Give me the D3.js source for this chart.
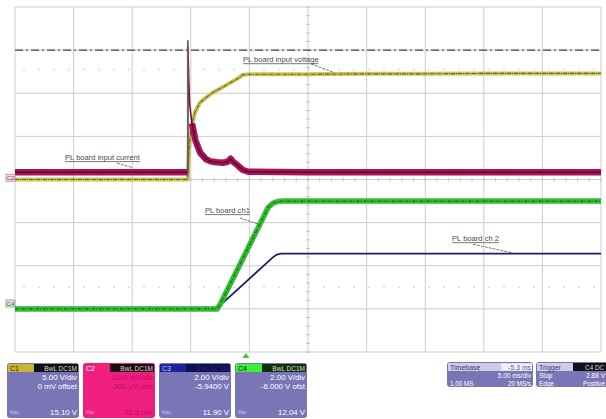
<!DOCTYPE html>
<html><head><meta charset="utf-8">
<script src="https://cdn.jsdelivr.net/npm/d3@7"></script>
<style>
html,body{margin:0;padding:0;background:#fff;}
svg{display:block;font-family:"Liberation Sans",Arial,sans-serif;}
</style></head>
<body>
<svg id="c" width="606" height="419"></svg>
<script>
// ---------- DATA ----------
// time in ms relative to trigger; timebase 5 ms/div, delay -5.3 ms
const timeDomain = [-19.7, 30.3];
const divDomain = [-4, 4];
const xDivs = d3.range(0, 11);
const yDivs = d3.range(-4, 5);

// C1 – PL board input voltage (V), 5 V/div, 0 V offset
const c1Time = [-19.7, -4.96, -4.94, -4.85, -4.68, -4.34, -3.92, -3.4, -2.81, -2.1, -1.36, -0.7, -0.25, 0.3, 5, 10, 15, 20, 25, 30.3];
const c1Volts = [0, 0, 0.6, 3.4, 6.0, 7.8, 8.9, 9.5, 10.1, 10.6, 11.2, 11.7, 12.15, 12.2, 12.2, 12.25, 12.25, 12.3, 12.3, 12.3];

// C2 – PL board input current (mV on probe), 10 mV/div
const c2Time = [-19.7, -4.97, -4.94, -4.88, -4.8, -4.6, -4.3, -3.9, -3.4, -3.0, -2.5, -1.95, -1.55, -1.3, -1.05, -0.8, -0.5, -0.25, 0.2, 5, 10, 20, 30.3];
const c2mV = [1.7, 1.7, 31.0, 24.0, 17.5, 13.0, 9.0, 6.2, 4.7, 4.2, 4.0, 3.9, 4.1, 4.8, 4.0, 3.5, 2.8, 2.2, 1.8, 1.7, 1.7, 1.7, 1.7];

// C3 – PL board ch 2 (V), 2 V/div, -5.94 V offset
const c3Time = [-19.7, -2.4, -2.2, 2.3, 2.65, 3.0, 10, 20, 30.3];
const c3Volts = [0, 0, 0.1, 2.33, 2.46, 2.5, 2.5, 2.5, 2.5];

// C4 – PL board ch1 (V), 2 V/div, -6.000 V offset
const c4Time = [-19.7, -2.45, -2.2, 1.9, 2.3, 2.7, 3.2, 10, 20, 30.3];
const c4Volts = [0, 0, 0.2, 4.7, 4.9, 4.98, 5.0, 5.0, 5.0, 5.0];

// channel vertical settings
const chVoltsPerDiv = {C1: 5, C2: 10, C3: 2, C4: 2};
const chOffsetV = {C1: 0, C2: 0, C3: -5.94, C4: -6.0};

const refLevelDiv = 3;          // dash-dot reference line
const trigTime = 0;

// annotations: [text, t, div, leader t1, d1, t2, d2]
const annotations = [
  ["PL board input voltage", -0.25, 2.72, 5.56, 2.68, 7.43, 2.49],
  ["PL board input current", -15.43, 0.45, -11.0, 0.38, -9.63, 0.27],
  ["PL board ch1", -3.49, -0.78, -0.5, -0.89, 1.2, -1.05],
  ["PL board ch 2", 17.59, -1.43, 19.38, -1.5, 22.71, -1.7]
];

// info boxes
const chBoxes = [
  {ch:"C1", mode:"BwL DC1M", l1:"5.00 V/div", l2:"0 mV offset", meas:"15.10 V"},
  {ch:"C2", mode:"BwL DC1M", l1:"10.0 mV/div", l2:"-500 µV ofst", meas:"30.5 mV"},
  {ch:"C3", mode:"BwL DC1M", l1:"2.00 V/div", l2:"-5.9400 V", meas:"11.90 V"},
  {ch:"C4", mode:"BwL DC1M", l1:"2.00 V/div", l2:"-6.000 V ofst", meas:"12.04 V"}
];
const timebaseText = ["Timebase", "-5.3 ms", "5.00 ms/div", "1.00 MS", "20 MS/s"];
const triggerText = ["Trigger", "C4 DC", "Stop", "2.88 V", "Edge", "Positive"];

// ---------- DRAW ----------
const svg = d3.select("#c");
const L = 15, R = 601, T = 7, B = 352;
const x = d3.scaleLinear().domain(timeDomain).range([L, R]);
const y = d3.scaleLinear().domain(divDomain).range([B, T]);
const xd = d3.scaleLinear().domain([0, 10]).range([L, R]);

// faint ghost dotted rows
[2.55, -2.5].forEach(d => {
  svg.append("line").attr("x1", L + 8).attr("x2", R).attr("y1", y(d)).attr("y2", y(d))
    .attr("stroke", "#dcdcdc").attr("stroke-width", 1.5).attr("stroke-dasharray", "2,13");
});

// grid
const grid = svg.append("g");
grid.selectAll(".vx").data(xDivs).join("line")
  .attr("x1", d => xd(d)).attr("x2", d => xd(d)).attr("y1", T).attr("y2", B)
  .attr("stroke", "#cdcdcd").attr("stroke-width", 1);
grid.selectAll(".hy").data(yDivs).join("line")
  .attr("x1", L).attr("x2", R).attr("y1", d => y(d)).attr("y2", d => y(d))
  .attr("stroke", "#cdcdcd").attr("stroke-width", 1);
// minor ticks on center axes
const minorX = d3.range(0, 50.01, 1).map(i => i / 5);
grid.selectAll(".mx").data(minorX).join("line")
  .attr("x1", d => xd(d)).attr("x2", d => xd(d)).attr("y1", y(0) - 2).attr("y2", y(0) + 2)
  .attr("stroke", "#c4c4c4");
const minorY = d3.range(-20, 20.01, 1).map(i => i / 5);
grid.selectAll(".my").data(minorY).join("line")
  .attr("x1", xd(5) - 2).attr("x2", xd(5) + 2).attr("y1", d => y(d)).attr("y2", d => y(d))
  .attr("stroke", "#c4c4c4");

// reference dash-dot line
svg.append("line").attr("x1", L).attr("x2", R).attr("y1", y(refLevelDiv)).attr("y2", y(refLevelDiv))
  .attr("stroke", "#4a4a4a").attr("stroke-width", 1.2).attr("stroke-dasharray", "8,3,2,3");

function toDiv(ch, v) { return (v + chOffsetV[ch]) / chVoltsPerDiv[ch]; }
function series(ch, ts, vs) { return ts.map((t, i) => ({t, d: toDiv(ch, vs[i])})); }
const line = d3.line().x(p => x(p.t)).y(p => y(p.d));
const lineDef = d3.line().x(p => x(p.t)).y(p => y(p.d)).defined(p => p.ok);

const s1 = series("C1", c1Time, c1Volts);
const s2 = series("C2", c2Time, c2mV);
const s3 = series("C3", c3Time, c3Volts);
const s4 = series("C4", c4Time, c4Volts);

// C3 blue
svg.append("path").attr("d", line(s3)).attr("fill", "none").attr("stroke", "#1e1e6e").attr("stroke-width", 1.8);
// C4 green
svg.append("path").attr("d", line(s4)).attr("fill", "none").attr("stroke", "#34bd34").attr("stroke-width", 5.5).attr("stroke-linejoin", "round");
svg.append("path").attr("d", line(s4)).attr("fill", "none").attr("stroke", "#137013").attr("stroke-width", 1.3).attr("stroke-dasharray", "3,1,1,2");
// C1 yellow
svg.append("path").attr("d", line(s1)).attr("fill", "none").attr("stroke", "#cbc45a").attr("stroke-width", 4).attr("stroke-linejoin", "round");
svg.append("path").attr("d", line(s1)).attr("fill", "none").attr("stroke", "#66641c").attr("stroke-width", 1.1).attr("stroke-dasharray", "4,1,1,1");
// C2 red: thick noise band (not on the fast spike) + thin line
const s2b = s2.map(p => ({...p, ok: !(p.t > -4.965 && p.t < -4.7)}));
svg.append("path").attr("d", lineDef(s2b)).attr("fill", "none").attr("stroke", "#a8145a").attr("stroke-width", 6.5).attr("stroke-linejoin", "round");
svg.append("path").attr("d", line(s2)).attr("fill", "none").attr("stroke", "#6b0a34").attr("stroke-width", 1.5);
svg.append("path").attr("d", lineDef(s2b)).attr("fill", "none").attr("stroke", "#5a0628").attr("stroke-width", 1.2).attr("stroke-dasharray", "3,1,1,2");
// fast spike edge (gray)
svg.append("line").attr("x1", x(-4.955)).attr("x2", x(-4.955)).attr("y1", y(toDiv("C2", 1.7))).attr("y2", y(toDiv("C2", 32.3)))
  .attr("stroke", "#6c6068").attr("stroke-width", 1.8);

// annotations
annotations.forEach(([txt, t, d, t1, d1, t2, d2]) => {
  const tx = svg.append("text").attr("x", x(t)).attr("y", y(d)).text(txt)
    .attr("font-size", 7.6).attr("fill", "#4a4a4a");
  const w = tx.node().getComputedTextLength();
  svg.append("line").attr("x1", x(t)).attr("x2", x(t) + w).attr("y1", y(d) + 1.5).attr("y2", y(d) + 1.5)
    .attr("stroke", "#555").attr("stroke-width", 0.8);
  svg.append("line").attr("x1", x(t1)).attr("x2", x(t2)).attr("y1", y(d1)).attr("y2", y(d2))
    .attr("stroke", "#555").attr("stroke-width", 0.8).attr("stroke-dasharray", "3,1");
});

// left channel ground markers
[["C2", toDiv("C2", 0.4), "#d87aa0", "#f4dce6"], ["C4", toDiv("C4", 0.25), "#7aa07a", "#dde8dd"]].forEach(([n, d, sc, fc]) => {
  svg.append("rect").attr("x", 6).attr("y", y(d) - 3.5).attr("width", 9).attr("height", 7)
    .attr("fill", fc).attr("stroke", sc).attr("stroke-width", 0.8);
  svg.append("text").attr("x", 10.5).attr("y", y(d) + 2.3).attr("text-anchor", "middle")
    .attr("font-size", 6).attr("fill", "#555").text(n);
});

// trigger marker at bottom
const tx0 = x(trigTime);
svg.append("path").attr("d", `M${tx0 - 3.5},${B + 6}L${tx0},${B + 1}L${tx0 + 3.5},${B + 6}Z`).attr("fill", "#3cc63c");

// ---------- info boxes ----------
const purple = "#7a76b6";
const headCols = [
  {left: "#c9b532", right: "#101010", txt: "#222", whole: purple},
  {left: "#f0207f", right: "#1a0a10", txt: "#fff", whole: "#f01e80"},
  {left: "#1e22a0", right: "#0e1050", txt: "#ccd", whole: purple},
  {left: "#3bf03b", right: "#0e2e0e", txt: "#111", whole: purple}
];
const boxX = [7, 83, 159, 235], boxW = 72, boxY = 363, boxH = 55;
chBoxes.forEach((b, i) => {
  const g = svg.append("g").attr("transform", `translate(${boxX[i]},${boxY})`);
  const hc = headCols[i];
  g.append("rect").attr("width", boxW).attr("height", boxH).attr("rx", 3).attr("fill", hc.whole);
  g.append("rect").attr("x", 1).attr("y", 1).attr("width", 26).attr("height", 8).attr("fill", hc.left);
  g.append("rect").attr("x", 27).attr("y", 1).attr("width", boxW - 28).attr("height", 8).attr("fill", hc.right);
  g.append("text").attr("x", 3).attr("y", 7.6).attr("font-size", 7).attr("fill", hc.txt).text(b.ch);
  g.append("text").attr("x", boxW - 2).attr("y", 7.6).attr("text-anchor", "end").attr("font-size", 6.5)
    .attr("fill", i === 2 ? "#24286a" : "#ddd").text(b.mode);
  const tc = i === 1 ? "#c0105e" : "#fff";
  g.append("text").attr("x", boxW - 2).attr("y", 17).attr("text-anchor", "end").attr("font-size", 7.8).attr("fill", tc).text(b.l1);
  g.append("text").attr("x", boxW - 2).attr("y", 26).attr("text-anchor", "end").attr("font-size", 7.8).attr("fill", tc).text(b.l2);
  g.append("text").attr("x", boxW - 2).attr("y", 52).attr("text-anchor", "end").attr("font-size", 7.8).attr("fill", tc).text(b.meas);
  g.append("text").attr("x", 3).attr("y", 51).attr("font-size", 4.5).attr("fill", i === 1 ? "#f8a0c8" : "#c8c6e8").text("Max");
});

// timebase box
(function () {
  const g = svg.append("g").attr("transform", "translate(447,362)");
  g.append("rect").attr("width", 86).attr("height", 25).attr("rx", 3).attr("fill", purple);
  g.append("rect").attr("x", 1).attr("y", 1).attr("width", 84).attr("height", 8).attr("fill", "#cfcbe6");
  g.append("rect").attr("x", 54).attr("y", 1.5).attr("width", 31).attr("height", 7).attr("fill", "#f2f0fa");
  g.append("text").attr("x", 3).attr("y", 7.5).attr("font-size", 7).attr("fill", "#3a3670").text(timebaseText[0]);
  g.append("text").attr("x", 84).attr("y", 7.5).attr("text-anchor", "end").attr("font-size", 6.8).attr("fill", "#5a5690").text(timebaseText[1]);
  g.append("text").attr("x", 84).attr("y", 16).attr("text-anchor", "end").attr("font-size", 6.5).attr("fill", "#fff").text(timebaseText[2]);
  g.append("text").attr("x", 3).attr("y", 23.5).attr("font-size", 6.3).attr("fill", "#fff").text(timebaseText[3]);
  g.append("text").attr("x", 84).attr("y", 23.5).attr("text-anchor", "end").attr("font-size", 6.3).attr("fill", "#fff").text(timebaseText[4]);
})();

// trigger box
(function () {
  const g = svg.append("g").attr("transform", "translate(536,362)");
  g.append("rect").attr("width", 72).attr("height", 25).attr("rx", 3).attr("fill", purple);
  g.append("rect").attr("x", 1).attr("y", 1).attr("width", 36).attr("height", 8).attr("fill", "#cfcbe6");
  g.append("rect").attr("x", 37).attr("y", 1).attr("width", 34).attr("height", 8).attr("fill", "#111");
  g.append("text").attr("x", 3).attr("y", 7.5).attr("font-size", 7).attr("fill", "#3a3670").text(triggerText[0]);
  g.append("text").attr("x", 68).attr("y", 7.5).attr("text-anchor", "end").attr("font-size", 6.3).attr("fill", "#ddd").text(triggerText[1]);
  g.append("text").attr("x", 3).attr("y", 16).attr("font-size", 6.5).attr("fill", "#fff").text(triggerText[2]);
  g.append("text").attr("x", 69).attr("y", 16).attr("text-anchor", "end").attr("font-size", 6.5).attr("fill", "#fff").text(triggerText[3]);
  g.append("text").attr("x", 3).attr("y", 23.5).attr("font-size", 6.3).attr("fill", "#fff").text(triggerText[4]);
  g.append("text").attr("x", 69).attr("y", 23.5).attr("text-anchor", "end").attr("font-size", 6.3).attr("fill", "#fff").text(triggerText[5]);
})();
</script>
</body></html>
